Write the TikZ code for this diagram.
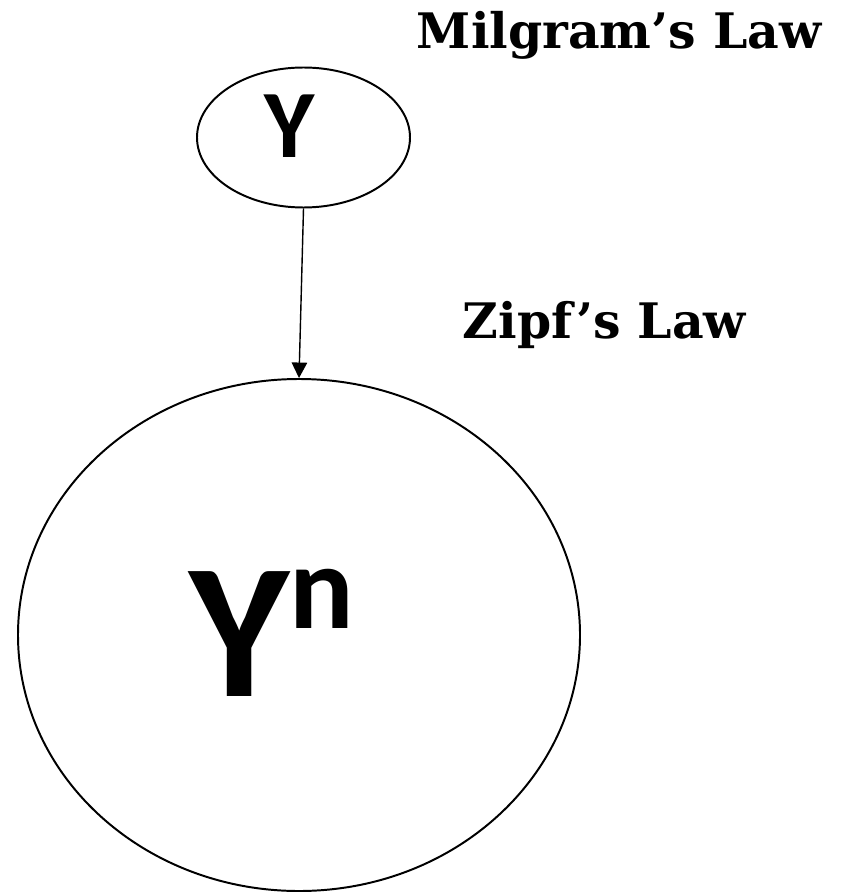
\documentclass[tikz,border=0pt]{standalone}
\usepackage{fontspec}
\setmainfont{DejaVu Serif}
\newfontfamily\lettersans{Carlito}
\usetikzlibrary{arrows.meta,positioning,shapes.geometric}

\tikzset{
  bubble/.style={draw,ellipse,line width=1.4pt,inner sep=0pt},
  lawlabel/.style={anchor=base west,font=\bfseries\fontsize{34.8}{40}\selectfont},
  letter/.style={anchor=base,font=\lettersans\bfseries\fontsize{68.7}{80}\selectfont},
}

\begin{document}
\begin{tikzpicture}[x=1cm,y=1cm]
\path[use as bounding box] (0,0) rectangle (21.025,-22.325);
% Small node on top, the grown node below it.
\node[bubble,minimum width=5.325cm,minimum height=3.5cm] (single) at (7.5875,-3.4375) {};
\node[letter] (singletext) at (7.25,-3.95) {Y};
\node[bubble,minimum width=14.05cm,minimum height=12.8cm] (grown) at (7.475,-15.875) {};
\node[letter,anchor=base west,font=\lettersans\bfseries\fontsize{137}{150}\selectfont]
  (growntext) at (4.62,-17.4)
  {Y\raisebox{47.7pt}{\fontsize{85.6}{90}\selectfont n}};
\draw[-{Triangle[length=11pt,width=11pt]},line width=1pt] (single.south) -- (grown.north);

% Law names to the right.
\node[lawlabel] (milgram) at (10.3,-1.225) {Milgram’s Law};
\node[lawlabel] (zipf) at (11.45,-8.45) {Zipf’s Law};
\end{tikzpicture}
\end{document}
